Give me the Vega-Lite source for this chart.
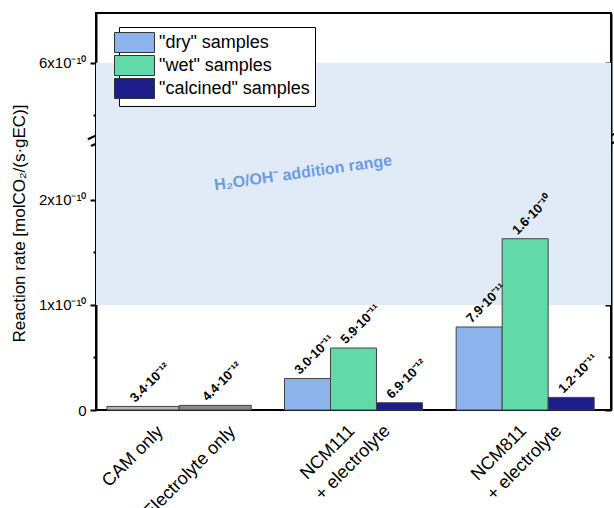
{
  "$schema": "https://vega.github.io/schema/vega-lite/v6.json",
  "width": 515,
  "height": 397,
  "autosize": {"type": "none"},
  "padding": {"left": 96, "top": 13, "right": 3, "bottom": 98},
  "config": {
    "view": {"stroke": "black", "strokeWidth": 2},
    "font": "Liberation Sans",
    "text": {"font": "Liberation Sans"},
    "axis": {"labelFont": "Liberation Sans", "titleFont": "Liberation Sans", "zindex": 1, "grid": false, "labelColor": "black", "tickColor": "black", "domainColor": "black"}
  },
  "datasets": {
    "controls": [
      {"group": "Controls", "sample": "CAM only", "rate": 3.4e-12, "label": "3.4·10⁻¹²"},
      {"group": "Controls", "sample": "Electrolyte only", "rate": 4.4e-12, "label": "4.4·10⁻¹²"}
    ],
    "ncm": [
      {"group": "NCM111", "sample": "\"dry\" samples", "rate": 3.0e-11, "label": "3.0·10⁻¹¹"},
      {"group": "NCM111", "sample": "\"wet\" samples", "rate": 5.9e-11, "label": "5.9·10⁻¹¹"},
      {"group": "NCM111", "sample": "\"calcined\" samples", "rate": 6.9e-12, "label": "6.9·10⁻¹²"},
      {"group": "NCM811", "sample": "\"dry\" samples", "rate": 7.9e-11, "label": "7.9·10⁻¹¹"},
      {"group": "NCM811", "sample": "\"wet\" samples", "rate": 1.63e-10, "label": "1.6·10⁻¹⁰"},
      {"group": "NCM811", "sample": "\"calcined\" samples", "rate": 1.2e-11, "label": "1.2·10⁻¹¹"}
    ],
    "ncmlabels": [
      {"group": "NCM111", "line1": "NCM111", "line2": "+ electrolyte"},
      {"group": "NCM811", "line1": "NCM811", "line2": "+ electrolyte"}
    ],
    "band": [{"lo": 1e-10, "hi": 6e-10, "label": "H₂O/OH⁻ addition range"}],
    "one": [{"k": 1}]
  },
  "layer": [
    {
      "data": {"name": "band"},
      "mark": {"type": "rect", "color": "#e1ebf8"},
      "encoding": {
        "y": {"field": "lo", "type": "quantitative",
          "scale": {"type": "linear", "domain": [0, 2.56e-10, 5.247e-10, 6.48e-10], "range": [397, 128, 128, 0], "nice": false, "zero": false},
          "axis": {"orient": "left", "values": [0, 1e-10, 2e-10, 6e-10],
            "labelExpr": "datum.value < 5e-11 ? '0' : datum.value < 1.5e-10 ? '1x10⁻¹⁰' : datum.value < 3e-10 ? '2x10⁻¹⁰' : '6x10⁻¹⁰'",
            "tickSize": 6, "tickWidth": 2, "domainWidth": 2, "labelFontSize": 15, "labelPadding": 4,
            "labelFlush": false, "labelOverlap": false,
            "title": "Reaction rate [molCO₂/(s·gEC)]", "titleFontSize": 17, "titleFontWeight": "normal", "titleColor": "black",
            "titleX": -68, "titleY": 210}},
        "y2": {"field": "hi"}
      }
    },
    {
      "data": {"name": "controls"},
      "encoding": {
        "x": {"field": "group", "type": "nominal", "scale": {"domain": ["Controls", "NCM111", "NCM811"], "paddingInner": 0, "paddingOuter": 0}, "axis": null},
        "xOffset": {"field": "sample", "type": "nominal", "scale": {"domain": ["CAM only", "Electrolyte only"], "paddingInner": 0, "paddingOuter": 0.19, "align": 0.4}}
      },
      "layer": [
        {
          "mark": {"type": "bar", "stroke": "#444444", "strokeWidth": 1},
          "encoding": {
            "y": {"field": "rate", "type": "quantitative", "scale": {"type": "linear", "domain": [0, 2.56e-10, 5.247e-10, 6.48e-10], "range": [397, 128, 128, 0], "nice": false, "zero": false}, "axis": null},
            "color": {"field": "sample", "type": "nominal",
              "scale": {"domain": ["\"dry\" samples", "\"wet\" samples", "\"calcined\" samples", "CAM only", "Electrolyte only"], "range": ["#8db3ec", "#62d9a8", "#1c1c8a", "#b3b3b3", "#888888"]},
              "legend": {"values": ["\"dry\" samples", "\"wet\" samples", "\"calcined\" samples"], "title": null, "orient": "none", "legendX": 23, "legendY": 14,
                "symbolType": "M-2,-1H2V1H-2Z", "symbolSize": 400, "symbolStrokeColor": "#333333", "symbolStrokeWidth": 1, "symbolOpacity": 1,
                "labelFontSize": 18, "labelFont": "Liberation Sans", "labelColor": "black", "labelOffset": 14, "labelLimit": 300,
                "padding": 5, "rowPadding": -2, "strokeColor": "black", "fillColor": "white"}}
          }
        },
        {
          "mark": {"type": "text", "angle": -45, "align": "left", "baseline": "bottom", "dx": -3, "dy": -5, "fontWeight": "bold", "fontSize": 13, "color": "black"},
          "encoding": {
            "y": {"field": "rate", "type": "quantitative", "scale": {"type": "linear", "domain": [0, 2.56e-10, 5.247e-10, 6.48e-10], "range": [397, 128, 128, 0], "nice": false, "zero": false}, "axis": null},
            "text": {"field": "label"}
          }
        },
        {
          "mark": {"type": "text", "angle": -45, "align": "right", "baseline": "top", "dx": -1, "dy": 17, "fontSize": 18, "color": "black"},
          "encoding": {
            "y": {"datum": 0, "type": "quantitative", "scale": {"type": "linear", "domain": [0, 2.56e-10, 5.247e-10, 6.48e-10], "range": [397, 128, 128, 0], "nice": false, "zero": false}, "axis": null},
            "text": {"field": "sample"}
          }
        }
      ]
    },
    {
      "data": {"name": "ncm"},
      "encoding": {
        "x": {"field": "group", "type": "nominal", "scale": {"domain": ["Controls", "NCM111", "NCM811"], "paddingInner": 0, "paddingOuter": 0}, "axis": null},
        "xOffset": {"field": "sample", "type": "nominal", "scale": {"domain": ["\"dry\" samples", "\"wet\" samples", "\"calcined\" samples"], "paddingInner": 0, "paddingOuter": 0.366}}
      },
      "layer": [
        {
          "mark": {"type": "bar", "stroke": "#444444", "strokeWidth": 1},
          "encoding": {
            "y": {"field": "rate", "type": "quantitative", "scale": {"type": "linear", "domain": [0, 2.56e-10, 5.247e-10, 6.48e-10], "range": [397, 128, 128, 0], "nice": false, "zero": false}, "axis": null},
            "color": {"field": "sample", "type": "nominal",
              "scale": {"domain": ["\"dry\" samples", "\"wet\" samples", "\"calcined\" samples", "CAM only", "Electrolyte only"], "range": ["#8db3ec", "#62d9a8", "#1c1c8a", "#b3b3b3", "#888888"]},
              "legend": {"values": ["\"dry\" samples", "\"wet\" samples", "\"calcined\" samples"], "title": null, "orient": "none", "legendX": 23, "legendY": 14,
                "symbolType": "M-2,-1H2V1H-2Z", "symbolSize": 400, "symbolStrokeColor": "#333333", "symbolStrokeWidth": 1, "symbolOpacity": 1,
                "labelFontSize": 18, "labelFont": "Liberation Sans", "labelColor": "black", "labelOffset": 14, "labelLimit": 300,
                "padding": 5, "rowPadding": -2, "strokeColor": "black", "fillColor": "white"}}
          }
        },
        {
          "mark": {"type": "text", "angle": -45, "align": "left", "baseline": "bottom", "dx": -3, "dy": -5, "fontWeight": "bold", "fontSize": 13, "color": "black"},
          "encoding": {
            "y": {"field": "rate", "type": "quantitative", "scale": {"type": "linear", "domain": [0, 2.56e-10, 5.247e-10, 6.48e-10], "range": [397, 128, 128, 0], "nice": false, "zero": false}, "axis": null},
            "text": {"field": "label"}
          }
        }
      ]
    },
    {
      "data": {"name": "ncmlabels"},
      "mark": {"type": "text", "angle": -45, "align": "right", "baseline": "top", "dx": -14, "dy": 3, "fontSize": 18, "color": "black"},
      "encoding": {
        "x": {"field": "group", "type": "nominal", "scale": {"domain": ["Controls", "NCM111", "NCM811"], "paddingInner": 0, "paddingOuter": 0}, "axis": null},
        "y": {"datum": 0, "type": "quantitative", "scale": {"type": "linear", "domain": [0, 2.56e-10, 5.247e-10, 6.48e-10], "range": [397, 128, 128, 0], "nice": false, "zero": false}, "axis": null},
        "text": {"field": "line1"}
      }
    },
    {
      "data": {"name": "ncmlabels"},
      "mark": {"type": "text", "angle": -45, "align": "right", "baseline": "top", "dx": 11, "dy": 28, "fontSize": 18, "color": "black"},
      "encoding": {
        "x": {"field": "group", "type": "nominal", "scale": {"domain": ["Controls", "NCM111", "NCM811"], "paddingInner": 0, "paddingOuter": 0}, "axis": null},
        "y": {"datum": 0, "type": "quantitative", "scale": {"type": "linear", "domain": [0, 2.56e-10, 5.247e-10, 6.48e-10], "range": [397, 128, 128, 0], "nice": false, "zero": false}, "axis": null},
        "text": {"field": "line2"}
      }
    },
    {
      "data": {"name": "band"},
      "mark": {"type": "text", "angle": -8, "align": "center", "baseline": "alphabetic", "fontSize": 16, "fontWeight": "bold", "color": "#6b9be0"},
      "encoding": {
        "x": {"datum": "NCM111", "type": "nominal", "bandPosition": 0.21, "scale": {"domain": ["Controls", "NCM111", "NCM811"], "paddingInner": 0, "paddingOuter": 0}, "axis": null},
        "y": {"datum": 2.21e-10, "type": "quantitative", "scale": {"type": "linear", "domain": [0, 2.56e-10, 5.247e-10, 6.48e-10], "range": [397, 128, 128, 0], "nice": false, "zero": false},
          "axis": {"orient": "left", "values": [5e-11, 1.5e-10, 5.5e-10], "labels": false, "tickSize": 3, "tickWidth": 2, "domain": false, "title": null}},
        "text": {"field": "label"}
      }
    },
    {
      "data": {"name": "one"},
      "mark": {"type": "rule", "opacity": 0},
      "encoding": {
        "y": {"datum": 0, "type": "quantitative", "scale": {"type": "linear", "domain": [0, 2.56e-10, 5.247e-10, 6.48e-10], "range": [397, 128, 128, 0], "nice": false, "zero": false},
          "axis": {"orient": "left", "values": [4e-10], "labelExpr": "'='", "ticks": false, "tickSize": 0, "labelPadding": 0, "labelOffset": -1, "labelAlign": "center", "labelBaseline": "middle", "labelAngle": -25, "labelFontSize": 30, "domain": false, "title": null, "labelFlush": false, "labelOverlap": false, "labelBound": false}}
      }
    },
    {
      "data": {"name": "one"},
      "mark": {"type": "rule", "opacity": 0},
      "encoding": {
        "y": {"datum": 0, "type": "quantitative", "scale": {"type": "linear", "domain": [0, 2.56e-10, 5.247e-10, 6.48e-10], "range": [397, 128, 128, 0], "nice": false, "zero": false},
          "axis": {"orient": "left", "offset": -515, "values": [0, 1e-10, 2e-10, 6e-10], "labels": false, "tickSize": 6, "tickWidth": 2, "domainWidth": 2, "title": null}}
      }
    },
    {
      "data": {"name": "one"},
      "mark": {"type": "rule", "opacity": 0},
      "encoding": {
        "y": {"datum": 0, "type": "quantitative", "scale": {"type": "linear", "domain": [0, 2.56e-10, 5.247e-10, 6.48e-10], "range": [397, 128, 128, 0], "nice": false, "zero": false},
          "axis": {"orient": "left", "offset": -515, "values": [5e-11, 1.5e-10, 5.5e-10], "labels": false, "tickSize": 3, "tickWidth": 2, "domain": false, "title": null}}
      }
    },
    {
      "data": {"name": "one"},
      "mark": {"type": "rule", "opacity": 0},
      "encoding": {
        "y": {"datum": 0, "type": "quantitative", "scale": {"type": "linear", "domain": [0, 2.56e-10, 5.247e-10, 6.48e-10], "range": [397, 128, 128, 0], "nice": false, "zero": false},
          "axis": {"orient": "left", "offset": -515, "values": [4e-10], "labelExpr": "'='", "ticks": false, "tickSize": 0, "labelPadding": 0, "labelOffset": -1, "labelAlign": "center", "labelBaseline": "middle", "labelAngle": -25, "labelFontSize": 30, "domain": false, "title": null, "labelFlush": false, "labelOverlap": false, "labelBound": false}}
      }
    }
  ],
  "resolve": {"scale": {"xOffset": "independent"}, "axis": {"y": "independent"}}
}
